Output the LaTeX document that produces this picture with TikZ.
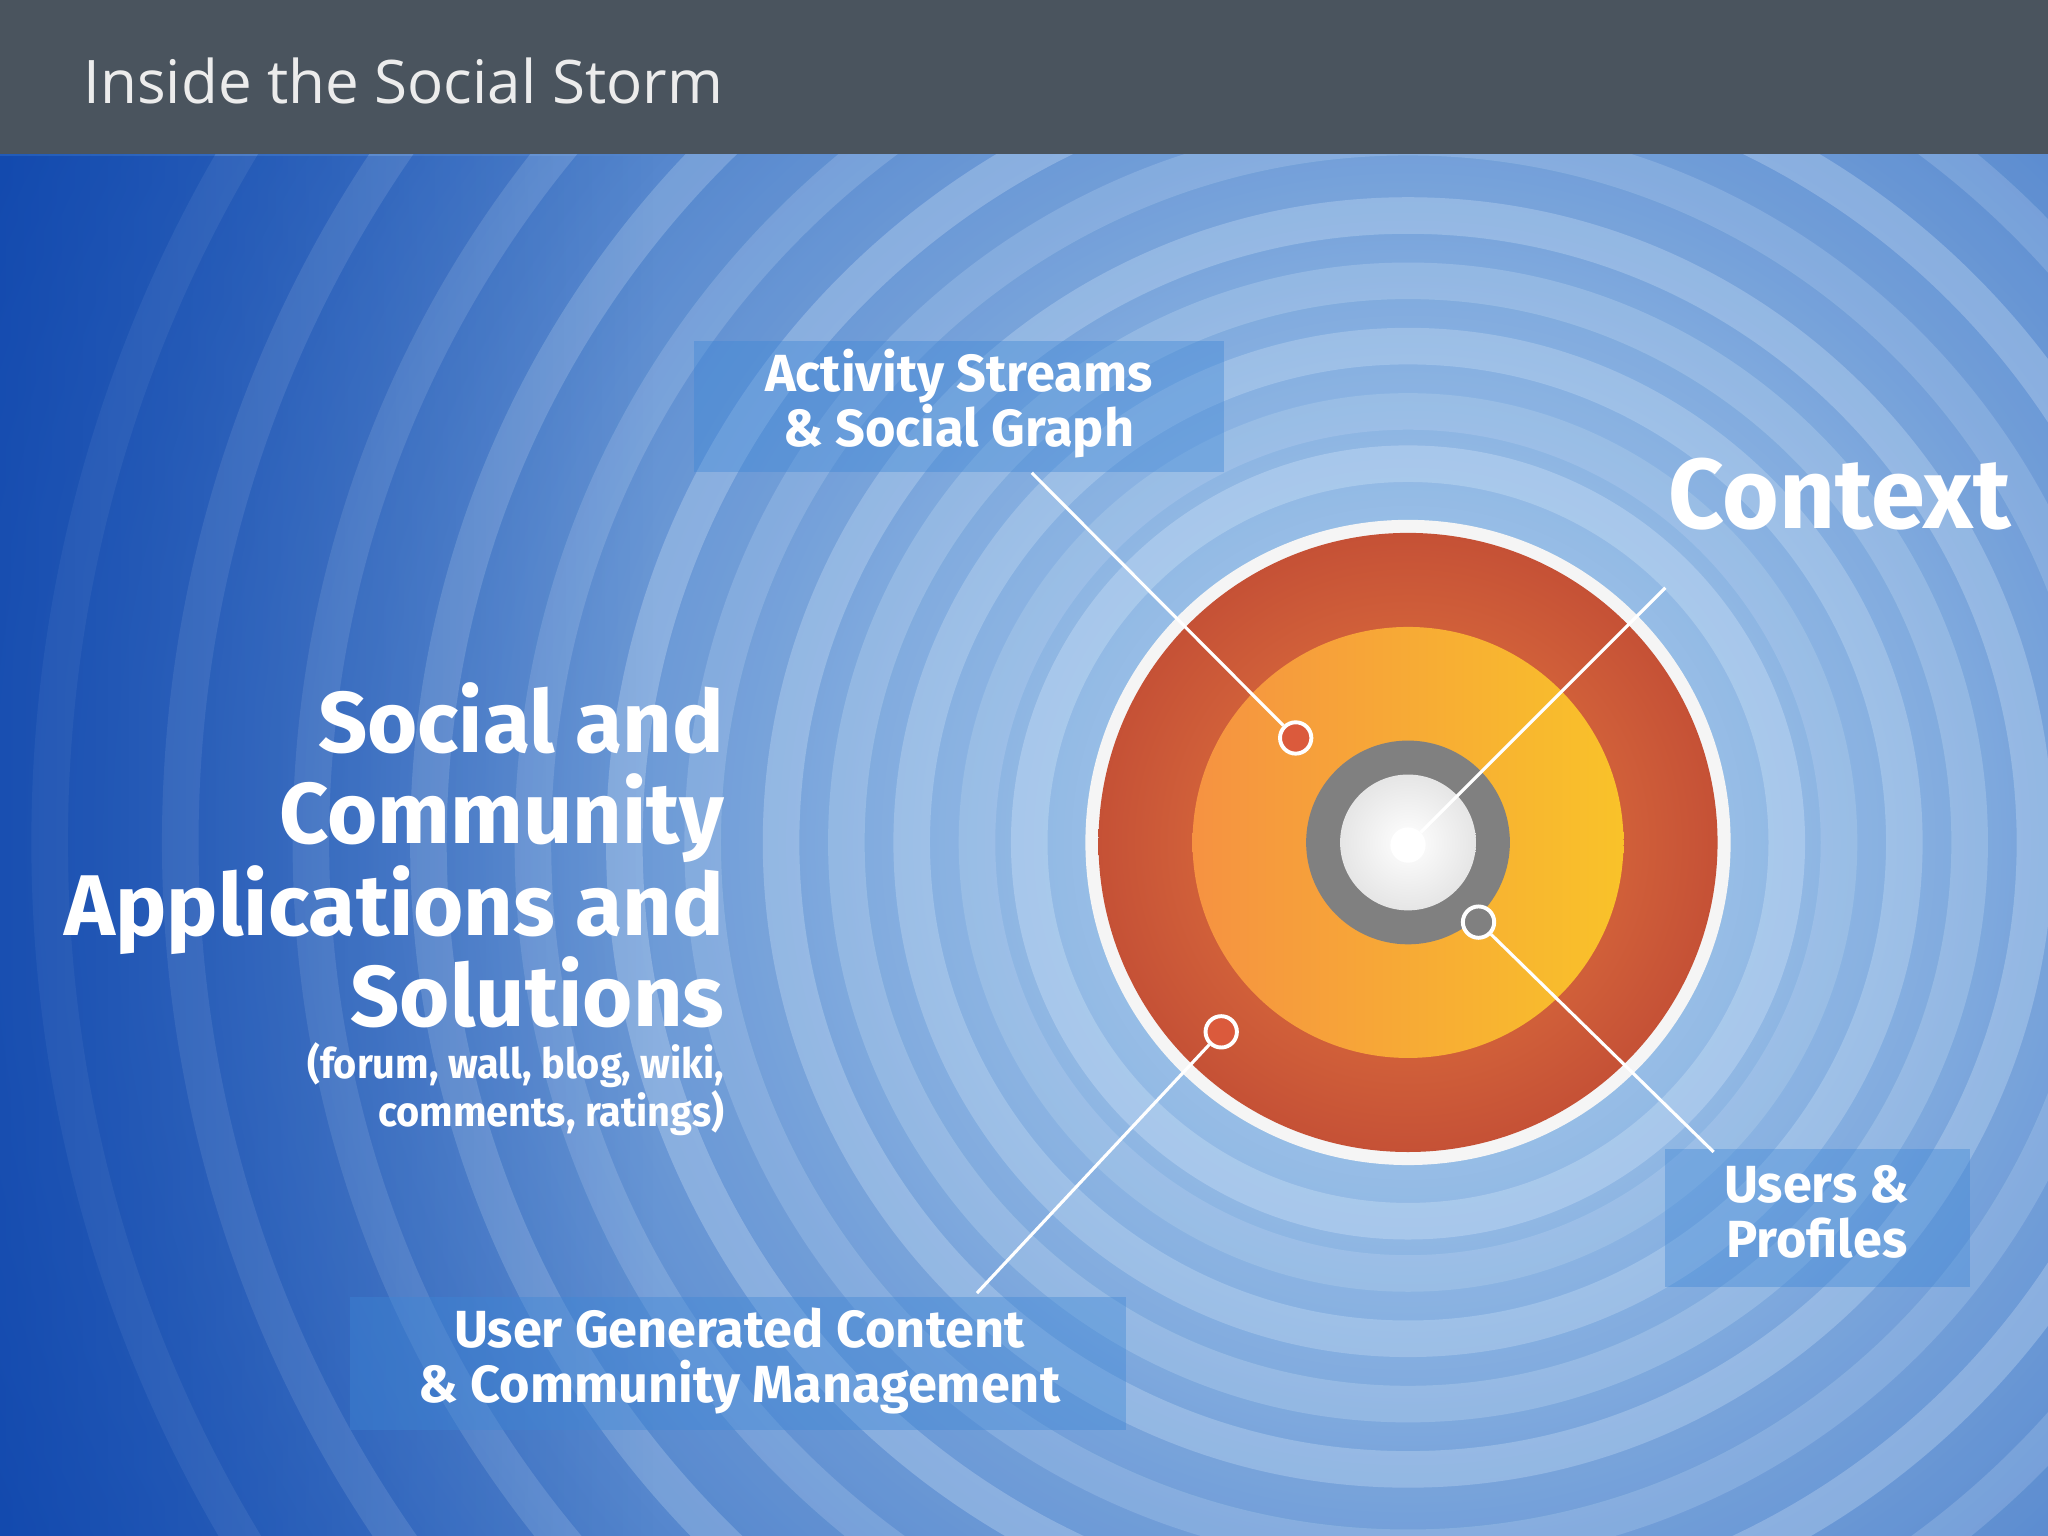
\documentclass[tikz,border=0pt]{standalone}
\usepackage{fontspec}
\setmainfont{Fira Sans}
\newfontfamily\hdr{Open Sans}
\usetikzlibrary{shadings,fadings}
\definecolor{hdrbg}{HTML}{4A545E}
\definecolor{deepblue}{HTML}{0A3FA8}
\definecolor{midblue}{HTML}{3D86D6}
\definecolor{skyblue}{HTML}{4F9BE3}
\definecolor{paleblue}{HTML}{D8EBF8}
\definecolor{redc}{HTML}{DB5A3C}
\definecolor{orangec}{HTML}{F59A45}
\tikzset{
  lbl/.style={text=white,font=\bfseries,align=center,inner sep=0pt},
  tag/.style={fill=midblue,fill opacity=0.4,draw=none},
  ptr/.style={white,line width=1.2pt},
  dot/.style={circle,draw=white,line width=1.5pt,fill=#1,minimum size=12pt,inner sep=0pt}
}
\begin{document}
\begin{tikzpicture}[x=0.5pt,y=-0.5pt]
\useasboundingbox (0,0) rectangle (1568,1176);
\begin{scope}
\clip (0,118) rectangle (1568,1176);
\shade[inner color=paleblue, outer color=deepblue] (1078,645) circle (1250);
\foreach \r/\o in {290/0.35,330/0.2,380/0.3,430/0.25,480/0.3,540/0.2,600/0.3,670/0.2,750/0.25,840/0.2,940/0.2,1040/0.15}{
  \draw[white,opacity=\o,line width=14pt] (1078,645) circle (\r);
}
\fill[skyblue,opacity=0.25] (0,118) rectangle (1568,1176);
\fill[deepblue,opacity=0.6,path fading=east] (0,118) rectangle (500,1176);
\end{scope}
\fill[hdrbg] (0,0) rectangle (1568,118);
\node[anchor=west,text=white!85!gray,font=\hdr\fontsize{23}{28}\selectfont] (title) at (57,62) {Inside the Social Storm};
% tags
\fill[tag] (531,261) rectangle (937,361);
\fill[tag] (1275,880) rectangle (1508,985);
\fill[tag] (268,993) rectangle (862,1095);
% target
\fill[white!92!gray] (1078,645) circle (247);
\shade[inner color=orangec!60!redc,outer color=redc!90!black] (1078,645) circle (237);
\shade[left color=orangec!95!red,right color=orangec!60!yellow] (1078,645) circle (165);
\fill[gray] (1078,645) circle (78);
\shade[inner color=white,outer color=white!80!gray] (1078,645) circle (52);
% dots
\node[dot=redc] (d1) at (992,565) {};
\node[dot=white] (d2) at (1078,647) {};
\node[dot=gray] (d3) at (1132,706) {};
\node[dot=redc] (d4) at (935,790) {};
\coordinate (e1) at (790,362);
\coordinate (e2) at (1275,450);
\coordinate (e3) at (1312,882);
\coordinate (e4) at (748,990);
\draw[ptr] (e1) -- (d1);
\draw[ptr] (e2) -- (d2);
\draw[ptr] (d3) -- (e3);
\draw[ptr] (d4) -- (e4);
% labels
\node[lbl,font=\bfseries\fontsize{20}{21}\selectfont] (l1) at (734,309) {Activity Streams\\\& Social Graph};
\node[lbl,font=\bfseries\fontsize{20}{21}\selectfont] (l3) at (1391,928) {Users \&\\Profiles};
\node[lbl,font=\bfseries\fontsize{20}{21}\selectfont] (l4) at (566,1042) {User Generated Content\\\& Community Management};
\node[lbl,anchor=east,font=\bfseries\fontsize{38}{39}\selectfont] (ctx) at (1540,378) {\scalebox{0.98}[1]{Context}};
\node[lbl,anchor=north east,align=right,font=\bfseries\fontsize{33}{35}\selectfont] (soc) at (555,522) {Social and\\Community\\Applications and\\Solutions};
\node[lbl,anchor=north east,align=right,font=\bfseries\fontsize{16}{16}\selectfont] (sub) at (555,798) {\scalebox{0.95}[1]{(forum, wall, blog, wiki,}\\\scalebox{0.95}[1]{comments, ratings)}};
\end{tikzpicture}
\end{document}
